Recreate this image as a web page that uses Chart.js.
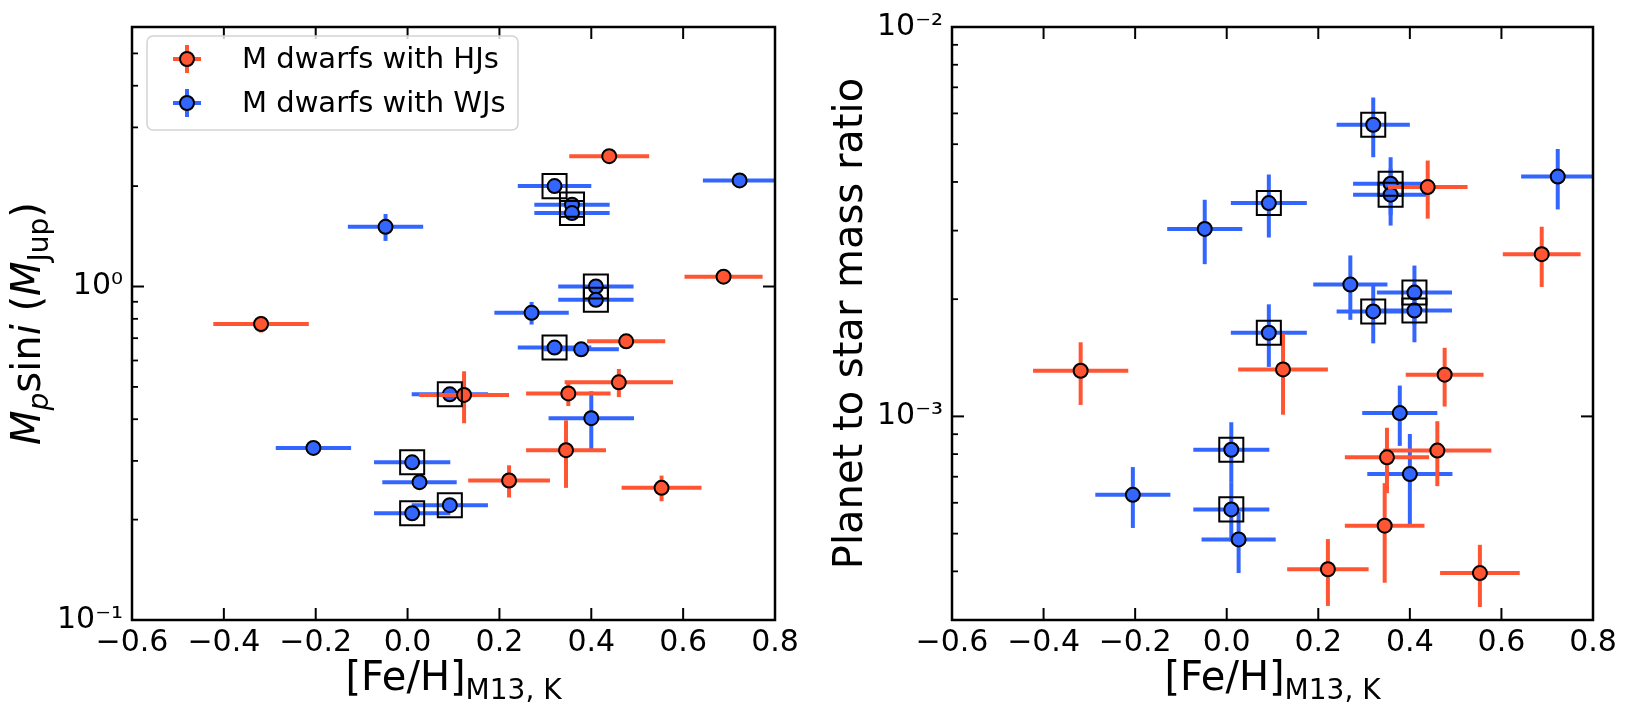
<!DOCTYPE html>
<html>
<head>
<meta charset="utf-8">
<script src="https://cdn.jsdelivr.net/npm/chart.js@4.4.0/dist/chart.umd.min.js"></script>
<style>
  html, body { margin: 0; padding: 0; background: #fff; }
  .panel { position: absolute; top: 0; width: 822px; height: 705px; }
</style>
</head>
<body>
<div class="panel" style="left:0"><canvas id="massChart"></canvas></div>
<div class="panel" style="left:822px"><canvas id="ratioChart"></canvas></div>
<script>
// M dwarfs hosting hot Jupiters
const hjFeH     = [0.439, 0.688, -0.319, 0.476, 0.460, 0.350, 0.123, 0.345, 0.221, 0.553];
const hjFeHErr  = [0.087, 0.085, 0.104, 0.085, 0.118, 0.092, 0.098, 0.087, 0.089, 0.087];
const hjMass    = [2.46, 1.07, 0.772, 0.685, 0.516, 0.478, 0.473, 0.323, 0.262, 0.249];
const hjMassErr = [0.04, 0.02, 0.044, 0.02, 0.05, 0.04, 0.084, 0.074, 0.029, 0.022];
const hjRatio    = [3.88e-3, 2.61e-3, 1.31e-3, 1.28e-3, 8.17e-4, 7.85e-4, 1.32e-3, 5.24e-4, 4.05e-4, 3.96e-4];
const hjRatioErr = [0.66e-3, 0.46e-3, 0.24e-3, 0.22e-3, 1.55e-4, 1.5e-4, 0.31e-3, 1.5e-4, 0.79e-4, 0.72e-4];

// M dwarfs hosting warm Jupiters
const wjFeH     = [0.320, 0.723, 0.358, 0.358, -0.048, 0.410, 0.410, 0.270, 0.320, 0.378, 0.092, 0.400, -0.205, 0.010, 0.026, 0.092, 0.010];
const wjFeHErr  = [0.080, 0.080, 0.082, 0.082, 0.082, 0.082, 0.082, 0.081, 0.080, 0.082, 0.083, 0.093, 0.082, 0.083, 0.081, 0.083, 0.083];
const wjMass    = [2.0, 2.08, 1.76, 1.66, 1.51, 1.0, 0.912, 0.834, 0.656, 0.648, 0.475, 0.403, 0.328, 0.297, 0.259, 0.221, 0.209];
const wjMassErr = [0.05, 0.05, 0.04, 0.04, 0.14, 0.03, 0.03, 0.065, 0.02, 0.02, 0.015, 0.082, 0.01, 0.01, 0.008, 0.007, 0.006];
const wjRatio    = [5.61e-3, 4.13e-3, 3.96e-3, 3.71e-3, 3.03e-3, 2.08e-3, 1.87e-3, 2.18e-3, 1.86e-3, 1.02e-3, 3.53e-3, 7.11e-4, 6.29e-4, 8.21e-4, 4.83e-4, 1.64e-3, 5.77e-4];
const wjRatioErr = [0.98e-3, 0.73e-3, 0.67e-3, 0.62e-3, 0.57e-3, 0.36e-3, 0.32e-3, 0.41e-3, 0.32e-3, 0.18e-3, 0.65e-3, 1.9e-4, 1.12e-4, 1.45e-4, 0.87e-4, 0.30e-3, 1.0e-4];
// systems marked with an open square
const wjBoxed   = [1, 0, 1, 1, 0, 1, 1, 0, 1, 0, 1, 0, 0, 1, 0, 1, 1];

const xTicks = [-0.6, -0.4, -0.2, 0.0, 0.2, 0.4, 0.6, 0.8];
const massTicks  = [0.1, 1];
const ratioTicks = [1e-3, 1e-2];

const RED = '#ff5533';
const BLUE = '#3366ff';
const FAM = "'DejaVu Sans'";

Chart.defaults.font.family = FAM;
Chart.defaults.color = '#000';

const SUP = {'-': '\u207b', '0': '\u2070', '1': '\u00b9', '2': '\u00b2', '3': '\u00b3', '4': '\u2074', '5': '\u2075', '6': '\u2076', '7': '\u2077', '8': '\u2078', '9': '\u2079'};
function powLabel(v) {
  const e = String(Math.round(Math.log10(v)));
  return '10' + e.split('').map(c => SUP[c]).join('');
}
function xLabel(v) {
  if (Math.abs(v) < 1e-9) return '0.0';
  return v.toFixed(1).replace('-', '\u2212');
}

function drawRuns(ctx, runs, cx, baseY) {
  let total = 0;
  runs.forEach(r => { ctx.font = r.font; r.w = ctx.measureText(r.t).width; total += r.w; });
  let x = cx - total / 2;
  ctx.textAlign = 'left';
  ctx.textBaseline = 'alphabetic';
  runs.forEach(r => { ctx.font = r.font; ctx.fillText(r.t, x, baseY + (r.dy || 0)); x += r.w; });
}

function line(ctx, x1, y1, x2, y2) {
  ctx.beginPath(); ctx.moveTo(x1, y1); ctx.lineTo(x2, y2); ctx.stroke();
}

function errMarker(ctx, x, y, color) {
  ctx.strokeStyle = color; ctx.lineWidth = 4;
  line(ctx, x - 14, y, x + 14, y);
  line(ctx, x, y - 14, x, y + 14);
  ctx.beginPath(); ctx.arc(x, y, 7, 0, Math.PI * 2);
  ctx.fillStyle = color; ctx.fill();
  ctx.lineWidth = 2; ctx.strokeStyle = '#000'; ctx.stroke();
}

const decorations = {
  id: 'decorations',
  beforeDatasetDraw(chart, args) {
    const ds = chart.data.datasets[args.index];
    if (!ds.errX) return;
    const {ctx, chartArea: a, scales: {x, y}} = chart;
    ctx.save();
    ctx.beginPath(); ctx.rect(a.left, a.top, a.width, a.height); ctx.clip();
    ctx.strokeStyle = ds.backgroundColor;
    ctx.lineWidth = 4;
    ds.data.forEach((p, i) => {
      const px = x.getPixelForValue(p.x), py = y.getPixelForValue(p.y);
      line(ctx, x.getPixelForValue(p.x - ds.errX[i]), py, x.getPixelForValue(p.x + ds.errX[i]), py);
      line(ctx, px, y.getPixelForValue(p.y + ds.errY[i]), px, y.getPixelForValue(Math.max(p.y - ds.errY[i], y.min / 2)));
    });
    ctx.restore();
  },
  afterDatasetsDraw(chart) {
    const {ctx, chartArea: a, scales: {x, y}} = chart;
    ctx.save();
    ctx.strokeStyle = '#000';
    ctx.lineWidth = 2;
    xTicks.forEach(v => {
      const px = x.getPixelForValue(v);
      line(ctx, px, a.bottom, px, a.bottom - 12);
      line(ctx, px, a.top, px, a.top + 12);
    });
    y.ticks.forEach(t => {
      const py = y.getPixelForValue(t.value);
      line(ctx, a.left, py, a.left + 12, py);
      line(ctx, a.right, py, a.right - 12, py);
    });
    ctx.lineWidth = 1.8;
    for (let d = Math.floor(Math.log10(y.min)); d <= Math.ceil(Math.log10(y.max)); d++) {
      for (let m = 2; m <= 9; m++) {
        const v = m * Math.pow(10, d);
        if (v > y.min * 1.001 && v < y.max * 0.999) {
          const py = y.getPixelForValue(v);
          line(ctx, a.left, py, a.left + 6, py);
        }
      }
    }
    ctx.lineWidth = 2.5;
    ctx.strokeRect(a.left, a.top, a.width, a.height);
    ctx.restore();
  },
  afterDraw(chart, args, opts) {
    const {ctx, chartArea: a} = chart;
    ctx.save();
    ctx.fillStyle = '#000';
    drawRuns(ctx, [
      {t: '[Fe/H]', font: `40px ${FAM}`},
      {t: 'M13, K', font: `28px ${FAM}`, dy: 9}
    ], (a.left + a.right) / 2, 690);
    ctx.translate(40, (a.top + a.bottom) / 2);
    ctx.rotate(-Math.PI / 2);
    drawRuns(ctx, opts.yTitle, 0, 0);
    ctx.restore();

    if (opts.legend) {
      ctx.save();
      ctx.beginPath();
      ctx.roundRect(147, 36, 371, 94, 6);
      ctx.fillStyle = 'rgba(255,255,255,0.8)'; ctx.fill();
      ctx.strokeStyle = '#d3d3d3'; ctx.lineWidth = 1.5; ctx.stroke();
      chart.data.datasets.filter(ds => ds.errX).forEach((ds, i) => {
        const yy = 59 + i * 44;
        errMarker(ctx, 187, yy, ds.backgroundColor);
        ctx.fillStyle = '#000';
        ctx.font = `29px ${FAM}`;
        ctx.textAlign = 'left'; ctx.textBaseline = 'middle';
        ctx.fillText(ds.label, 242, yy + 1);
      });
      ctx.restore();
    }
  }
};

function createChart(canvasId, hjY, hjYErr, wjY, wjYErr, cfg) {
  const boxed = wjFeH.map((x, i) => ({x, y: wjY[i]})).filter((p, i) => wjBoxed[i]);
  return new Chart(document.getElementById(canvasId), {
    type: 'scatter',
    data: {
      datasets: [
        {label: 'M dwarfs with HJs', data: hjFeH.map((x, i) => ({x, y: hjY[i]})), errX: hjFeHErr, errY: hjYErr,
         backgroundColor: RED, borderColor: '#000', borderWidth: 2, pointRadius: 7, order: 1},
        {label: 'M dwarfs with WJs', data: wjFeH.map((x, i) => ({x, y: wjY[i]})), errX: wjFeHErr, errY: wjYErr,
         backgroundColor: BLUE, borderColor: '#000', borderWidth: 2, pointRadius: 7, order: 2},
        {label: '', data: boxed, pointStyle: 'rect', pointRadius: 17, borderColor: '#000', borderWidth: 2,
         backgroundColor: 'rgba(0,0,0,0)', order: 0}
      ]
    },
    options: {
      responsive: true,
      maintainAspectRatio: false,
      animation: false,
      events: [],
      layout: {padding: {top: 21, right: cfg.padRight, left: 0, bottom: 0}},
      plugins: {
        legend: {display: false},
        tooltip: {enabled: false},
        decorations: {yTitle: cfg.yTitle, legend: cfg.legend}
      },
      scales: {
        x: {
          type: 'linear', min: -0.6, max: 0.8,
          grid: {display: false, drawTicks: false}, border: {display: false},
          ticks: {padding: 5, font: {size: 30}, color: '#000', maxRotation: 0, autoSkip: false, callback: v => xLabel(v)},
          afterBuildTicks: s => { s.ticks = xTicks.map(v => ({value: v})); },
          afterFit: s => { s.height = 85; }
        },
        y: {
          type: 'logarithmic', min: cfg.yMin, max: cfg.yMax,
          grid: {display: false, drawTicks: false}, border: {display: false},
          ticks: {padding: 9, font: {size: 30}, color: '#000', autoSkip: false, callback: v => powLabel(v)},
          afterBuildTicks: s => { s.ticks = cfg.yTicks.map(v => ({value: v})); },
          afterFit: s => { s.width = cfg.axisWidth; }
        }
      }
    },
    plugins: [decorations]
  });
}

const massChart = createChart('massChart', hjMass, hjMassErr, wjMass, wjMassErr, {
  yMin: 0.1, yMax: 6.0, yTicks: massTicks, axisWidth: 132, padRight: 47, legend: true,
  yTitle: [
    {t: 'M', font: `italic 40px ${FAM}`},
    {t: 'p', font: `italic 28px ${FAM}`, dy: 8},
    {t: 'sin', font: `40px ${FAM}`},
    {t: 'i', font: `italic 40px ${FAM}`},
    {t: ' (', font: `40px ${FAM}`},
    {t: 'M', font: `italic 40px ${FAM}`},
    {t: 'Jup', font: `28px ${FAM}`, dy: 8},
    {t: ')', font: `40px ${FAM}`}
  ]
});

const ratioChart = createChart('ratioChart', hjRatio, hjRatioErr, wjRatio, wjRatioErr, {
  yMin: 3e-4, yMax: 1e-2, yTicks: ratioTicks, axisWidth: 130, padRight: 51, legend: false,
  yTitle: [{t: 'Planet to star mass ratio', font: `40px ${FAM}`}]
});
</script>
</body>
</html>
